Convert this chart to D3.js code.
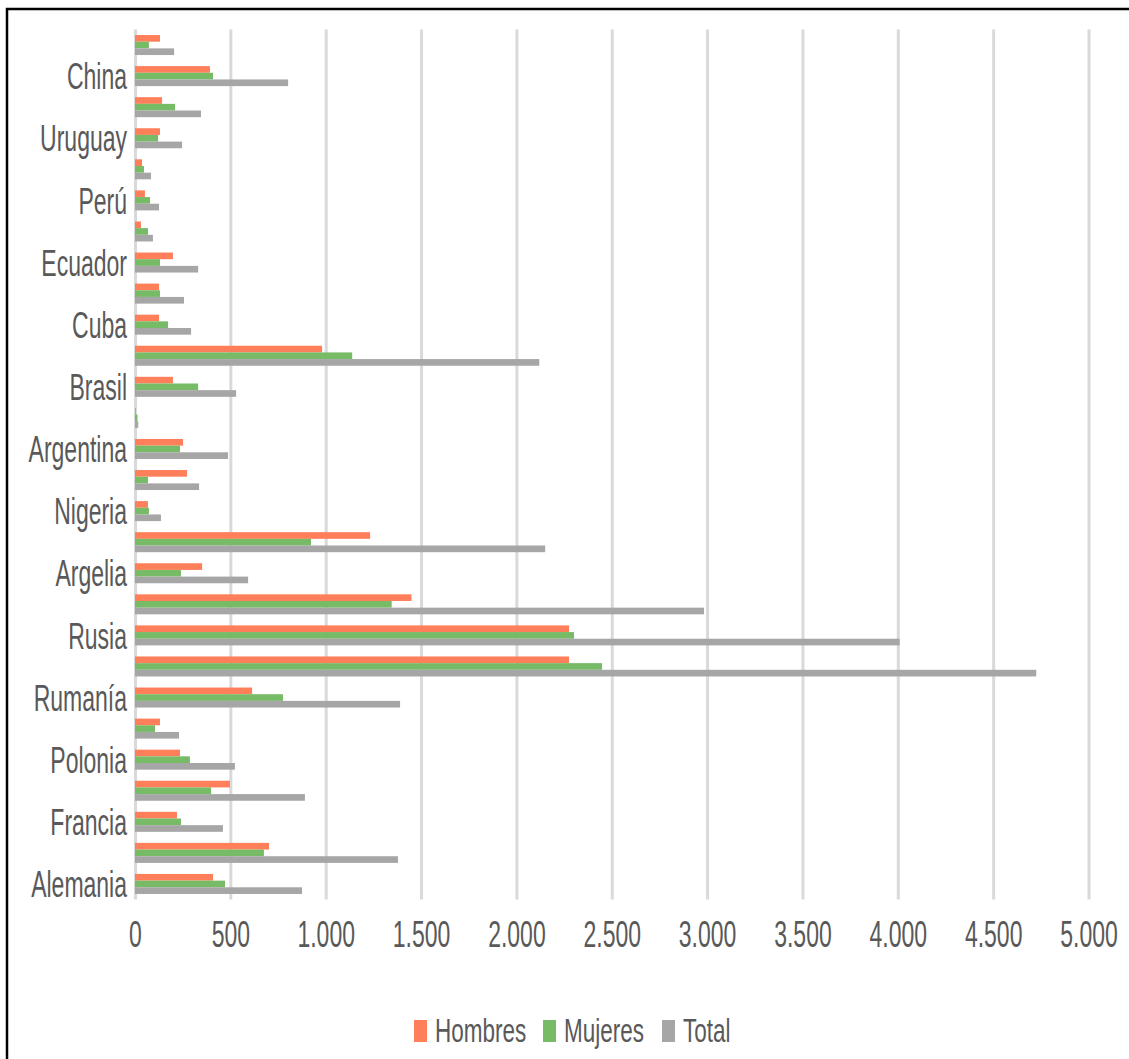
<!DOCTYPE html>
<html>
<head>
<meta charset="utf-8">
<script src="https://cdn.jsdelivr.net/npm/d3@7"></script>
<style>
  html, body { margin: 0; padding: 0; background: #fff; }
  svg { display: block; }
  text { font-family: "Liberation Sans", Arial, sans-serif; fill: #595959; }
</style>
</head>
<body>
<svg id="chart" width="1129" height="1059"></svg>
<script>
// Categories from bottom to top (Excel order). Empty strings = rows whose labels are hidden in the original.
const categories = ["Alemania", "", "Francia", "", "Polonia", "", "Rumanía", "", "Rusia", "",
  "Argelia", "", "Nigeria", "", "Argentina", "", "Brasil", "", "Cuba", "",
  "Ecuador", "", "Perú", "", "Uruguay", "", "China", ""];
const hombres = [409, 703, 220, 498, 236, 131, 614, 2276, 2276, 1450,
  352, 1233, 68, 273, 252, 4, 199, 981, 126, 126,
  199, 31, 52, 37, 131, 142, 393, 131];
const mujeres = [472, 676, 241, 399, 288, 105, 776, 2449, 2302, 1346,
  241, 923, 73, 68, 236, 13, 331, 1139, 173, 131,
  131, 68, 79, 47, 121, 210, 409, 73];
const total = [876, 1379, 461, 891, 524, 231, 1390, 4726, 4010, 2984,
  593, 2151, 136, 336, 488, 17, 530, 2120, 294, 257,
  331, 94, 126, 84, 247, 346, 803, 205];
const seriesNames = ["Hombres", "Mujeres", "Total"];
const seriesColors = ["#FF7F5A", "#77BB66", "#A6A6A6"];
const xTicks = [0, 500, 1000, 1500, 2000, 2500, 3000, 3500, 4000, 4500, 5000];

const svg = d3.select("#chart");
const plotLeft = 135, plotRight = 1088.5, plotTop = 29.5, plotBottom = 899.5;
const SY = 1.6;

const fmt = d3.formatLocale({decimal: ",", thousands: ".", grouping: [3], currency: ["", "€"]}).format(",d");

const x = d3.scaleLinear().domain([0, 5000]).range([plotLeft, plotRight]);
const idx = d3.range(categories.length);
const y = d3.scaleBand().domain(idx).range([plotBottom, plotTop]).paddingInner(0.356).paddingOuter(0.178);
const ySub = d3.scaleBand().domain(seriesNames).range([0, y.bandwidth()]);

// border (partial frame as in the reference)
svg.append("path").attr("d", "M7,1059 V9 H1129").attr("fill", "none").attr("stroke", "#000").attr("stroke-width", 2.5);

// gridlines
const grid = svg.append("g").attr("transform", `translate(0,${plotBottom})`)
  .call(d3.axisBottom(x).tickValues(xTicks).tickSize(-(plotBottom - plotTop)).tickFormat(""));
grid.select(".domain").remove();
grid.selectAll("line").attr("stroke", "#D9D9D9").attr("stroke-width", 3);

// bars
const rows = idx.map(i => ({i, vals: [hombres[i], mujeres[i], total[i]]}));
const g = svg.append("g");
rows.forEach(r => {
  r.vals.forEach((v, k) => {
    g.append("rect")
      .attr("x", x(0))
      .attr("y", y(r.i) + ySub(seriesNames[k]))
      .attr("width", x(v) - x(0))
      .attr("height", ySub.bandwidth())
      .attr("fill", seriesColors[k]);
  });
});

// x axis labels
const xa = svg.append("g").attr("transform", `translate(0,947)`)
  .call(d3.axisBottom(x).tickValues(xTicks).tickSize(0).tickPadding(0).tickFormat(fmt));
xa.select(".domain").remove();
xa.selectAll("text").attr("y", 0).attr("dy", 0)
  .attr("transform", `scale(1,${SY})`)
  .style("font-size", "23px").style("font-family", "'Liberation Sans', Arial, sans-serif").attr("fill", "#595959");

// y axis labels
const ya = svg.append("g").attr("transform", `translate(${plotLeft},0)`)
  .call(d3.axisLeft(y).tickSize(0).tickPadding(8).tickFormat(i => categories[i]));
ya.select(".domain").remove();
ya.selectAll("text").attr("dy", "0.358em")
  .attr("transform", `scale(1,${SY})`)
  .style("font-size", "23px").style("font-family", "'Liberation Sans', Arial, sans-serif").attr("fill", "#595959");

// legend
const legendX = [414, 543, 662];
const lg = svg.append("g");
seriesNames.forEach((n, k) => {
  lg.append("rect").attr("x", legendX[k]).attr("y", 1020).attr("width", 13).attr("height", 22).attr("fill", seriesColors[k]);
  lg.append("text").attr("transform", `translate(${legendX[k] + 21},1042) scale(1,1.5)`)
    .style("font-size", "22.5px").text(n);
});
</script>
</body>
</html>
